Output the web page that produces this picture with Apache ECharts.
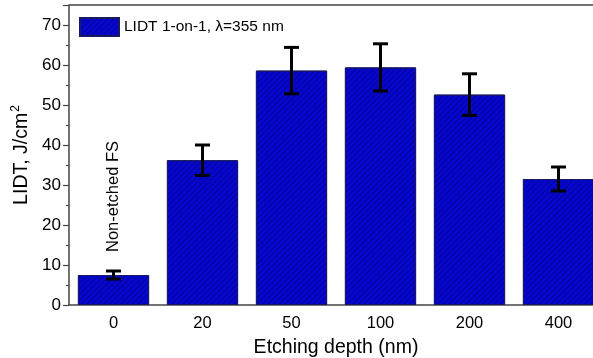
<!DOCTYPE html>
<html>
<head>
<meta charset="utf-8">
<script src="https://cdn.jsdelivr.net/npm/echarts@6/dist/echarts.min.js"></script>
<style>
html, body { margin: 0; padding: 0; background: #fff; }
#main { width: 593px; height: 358px; }
</style>
</head>
<body>
<div id="main"></div>
<script>
// 刻蚀深度 - LIDT 柱状图
var depths = ['0', '20', '50', '100', '200', '400'];
var lidt = [7.5, 36.2, 58.6, 59.4, 52.6, 31.5];
var lidtErr = [1.0, 3.8, 5.8, 5.9, 5.2, 3.0];
var yTicks = [0, 10, 20, 30, 40, 50, 60, 70];

var myChart = echarts.init(document.getElementById('main'));

var barData = lidt.map(function (v, i) {
    if (i === 0) {
        return {
            value: v,
            label: {
                show: true,
                position: 'top',
                rotate: 90,
                align: 'left',
                verticalAlign: 'middle',
                distance: 20,
                offset: [3, 0],
                formatter: 'Non-etched FS',
                fontSize: 16.5,
                color: '#000',
                fontFamily: 'Liberation Sans'
            }
        };
    }
    return v;
});

var errData = lidt.map(function (v, i) {
    return [i, v - lidtErr[i], v + lidtErr[i]];
});

option = {
    animation: false,
    textStyle: { fontFamily: 'Liberation Sans', color: '#000' },
    aria: { enabled: true, decal: { show: true } },
    grid: {
        left: 69,
        width: 534,
        top: 5,
        bottom: 53,
        containLabel: false,
        outerBoundsMode: 'none'
    },
    legend: {
        left: 74,
        top: 12,
        itemWidth: 39,
        itemHeight: 18,
        itemGap: 5,
        icon: 'rect',
        textStyle: { fontSize: 15.5, color: '#000', fontFamily: 'Liberation Sans' },
        data: ['LIDT 1-on-1, λ=355 nm']
    },
    xAxis: {
        type: 'category',
        data: depths,
        name: 'Etching depth (nm)',
        nameLocation: 'middle',
        nameGap: 33,
        nameTextStyle: { fontSize: 19.5, color: '#000' },
        axisLine: { lineStyle: { color: '#444', width: 1.5 } },
        axisTick: { show: false },
        axisLabel: { fontSize: 16.5, color: '#000', margin: 10 },
        splitLine: { show: false }
    },
    yAxis: {
        type: 'value',
        min: 0,
        max: 75,
        interval: 10,
        name: '{n|LIDT, J/cm}{s|2}',
        nameLocation: 'middle',
        nameGap: 33,
        nameTextStyle: {
            rich: {
                n: { fontSize: 19.5, color: '#000', fontFamily: 'Liberation Sans' },
                s: { fontSize: 12, color: '#000', fontFamily: 'Liberation Sans', verticalAlign: 'top', padding: [0, 0, 12, 1] }
            }
        },
        axisLine: { show: true, lineStyle: { color: '#444', width: 1.5 } },
        axisTick: { show: true, length: 6, lineStyle: { color: '#444', width: 1.2 } },
        minorTick: { show: true, splitNumber: 2, length: 3, lineStyle: { color: '#444', width: 1.2 } },
        axisLabel: {
            fontSize: 17,
            color: '#000',
            margin: 8,
            showMaxLabel: false,
            formatter: function (v) {
                return yTicks.indexOf(v) >= 0 ? v : '';
            }
        },
        splitLine: { show: false }
    },
    series: [
        {
            name: 'LIDT 1-on-1, λ=355 nm',
            type: 'bar',
            barCategoryGap: '20%',
            data: barData,
            itemStyle: {
                color: '#0606cc',
                borderColor: '#1a1a60',
                borderWidth: 1,
                decal: {
                    symbol: 'rect',
                    symbolSize: 1,
                    dashArrayX: [1, 0],
                    dashArrayY: [1, 3],
                    rotation: -Math.PI / 4,
                    color: 'rgba(0,0,60,0.3)'
                }
            }
        },
        {
            name: 'err',
            type: 'custom',
            z: 10,
            data: errData,
            renderItem: function (params, api) {
                var x = api.value(0);
                var lo = api.coord([x, api.value(1)]);
                var hi = api.coord([x, api.value(2)]);
                var hw = 7.5;
                var st = { stroke: '#000', lineWidth: 3, fill: null };
                return {
                    type: 'group',
                    children: [
                        { type: 'line', shape: { x1: lo[0], y1: lo[1], x2: hi[0], y2: hi[1] }, style: st },
                        { type: 'line', shape: { x1: lo[0] - hw, y1: lo[1], x2: lo[0] + hw, y2: lo[1] }, style: st },
                        { type: 'line', shape: { x1: hi[0] - hw, y1: hi[1], x2: hi[0] + hw, y2: hi[1] }, style: st }
                    ]
                };
            }
        }
    ],
    graphic: [
        {
            type: 'line',
            shape: { x1: 69, y1: 5, x2: 593, y2: 5 },
            style: { stroke: '#444', lineWidth: 1.5 }
        }
    ]
};

myChart.setOption(option);
</script>
</body>
</html>
